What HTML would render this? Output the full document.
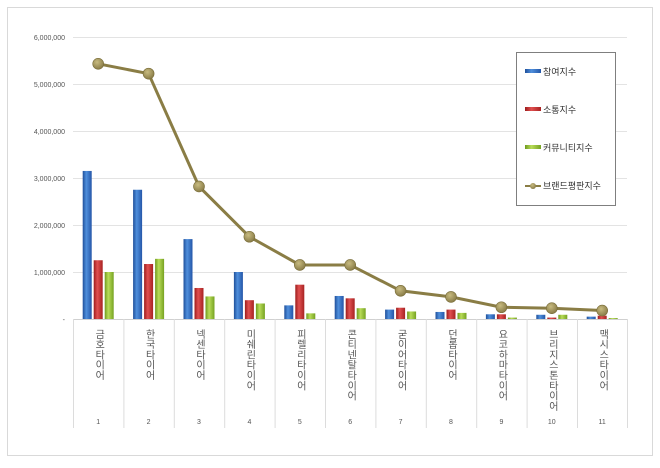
<!DOCTYPE html>
<html><head><meta charset="utf-8"><style>
body{margin:0;background:#fff;width:660px;height:463px;overflow:hidden}
svg text{font-family:"Liberation Sans","Noto Sans CJK KR",sans-serif}
.v{writing-mode:vertical-rl;font-size:10px;fill:#555;letter-spacing:0.3px}
.n{font-size:7px;fill:#555}
</style></head><body>
<svg width="660" height="463" xmlns="http://www.w3.org/2000/svg">
<defs>
<linearGradient id="gb" x1="0" x2="1"><stop offset="0" stop-color="#1f4f9a"/><stop offset="0.4" stop-color="#4f8fdc"/><stop offset="1" stop-color="#2456a8"/></linearGradient>
<linearGradient id="gr" x1="0" x2="1"><stop offset="0" stop-color="#9c1c1c"/><stop offset="0.4" stop-color="#e05050"/><stop offset="1" stop-color="#a82222"/></linearGradient>
<linearGradient id="gg" x1="0" x2="1"><stop offset="0" stop-color="#6f9a1e"/><stop offset="0.4" stop-color="#b8dc58"/><stop offset="1" stop-color="#76a222"/></linearGradient>
<radialGradient id="gm" cx="0.4" cy="0.35" r="0.7"><stop offset="0" stop-color="#c8bb80"/><stop offset="1" stop-color="#857844"/></radialGradient>
</defs>
<rect x="7.5" y="7.5" width="645" height="448" fill="#fff" stroke="#d9d9d9"/>
<g stroke="#e3e3e3">
<line x1="73" x2="627" y1="37.5" y2="37.5"/><line x1="73" x2="627" y1="84.5" y2="84.5"/>
<line x1="73" x2="627" y1="131.5" y2="131.5"/><line x1="73" x2="627" y1="178.5" y2="178.5"/>
<line x1="73" x2="627" y1="225.5" y2="225.5"/><line x1="73" x2="627" y1="272.5" y2="272.5"/>
<line x1="73" x2="627" y1="319.5" y2="319.5" stroke="#d0d0d0"/>
</g>
<g font-size="7" fill="#555" text-anchor="end">
<text x="65" y="40">6,000,000</text><text x="65" y="87">5,000,000</text><text x="65" y="134">4,000,000</text>
<text x="65" y="181">3,000,000</text><text x="65" y="228">2,000,000</text><text x="65" y="275">1,000,000</text><text x="65" y="322">-</text>
</g>
<g stroke="#dcdcdc">
<line x1="73.5" x2="73.5" y1="319" y2="428"/><line x1="123.9" x2="123.9" y1="319" y2="428"/><line x1="174.3" x2="174.3" y1="319" y2="428"/><line x1="224.7" x2="224.7" y1="319" y2="428"/><line x1="275.1" x2="275.1" y1="319" y2="428"/><line x1="325.5" x2="325.5" y1="319" y2="428"/><line x1="375.9" x2="375.9" y1="319" y2="428"/><line x1="426.3" x2="426.3" y1="319" y2="428"/><line x1="476.7" x2="476.7" y1="319" y2="428"/><line x1="527.1" x2="527.1" y1="319" y2="428"/><line x1="577.5" x2="577.5" y1="319" y2="428"/><line x1="627.5" x2="627.5" y1="319" y2="428"/>
</g>
<g>
<rect x="82.7" y="170.95" width="9" height="148.05" fill="url(#gb)"/><rect x="93.7" y="260.25" width="9" height="58.75" fill="url(#gr)"/><rect x="104.7" y="272" width="9" height="47" fill="url(#gg)"/>
<rect x="133.1" y="189.75" width="9" height="129.25" fill="url(#gb)"/><rect x="144.1" y="264.01" width="9" height="54.99" fill="url(#gr)"/><rect x="155.1" y="258.84" width="9" height="60.16" fill="url(#gg)"/>
<rect x="183.5" y="239.1" width="9" height="79.9" fill="url(#gb)"/><rect x="194.5" y="287.98" width="9" height="31.02" fill="url(#gr)"/><rect x="205.5" y="296.44" width="9" height="22.56" fill="url(#gg)"/>
<rect x="233.9" y="272" width="9" height="47" fill="url(#gb)"/><rect x="244.9" y="300.2" width="9" height="18.8" fill="url(#gr)"/><rect x="255.9" y="303.49" width="9" height="15.51" fill="url(#gg)"/>
<rect x="284.3" y="305.37" width="9" height="13.63" fill="url(#gb)"/><rect x="295.3" y="284.69" width="9" height="34.31" fill="url(#gr)"/><rect x="306.3" y="313.36" width="9" height="5.64" fill="url(#gg)"/>
<rect x="334.7" y="295.97" width="9" height="23.03" fill="url(#gb)"/><rect x="345.7" y="298.32" width="9" height="20.68" fill="url(#gr)"/><rect x="356.7" y="308.19" width="9" height="10.81" fill="url(#gg)"/>
<rect x="385.1" y="309.6" width="9" height="9.4" fill="url(#gb)"/><rect x="396.1" y="307.72" width="9" height="11.28" fill="url(#gr)"/><rect x="407.1" y="311.48" width="9" height="7.52" fill="url(#gg)"/>
<rect x="435.5" y="311.95" width="9" height="7.05" fill="url(#gb)"/><rect x="446.5" y="309.6" width="9" height="9.4" fill="url(#gr)"/><rect x="457.5" y="312.89" width="9" height="6.11" fill="url(#gg)"/>
<rect x="485.9" y="314.3" width="9" height="4.7" fill="url(#gb)"/><rect x="496.9" y="314.3" width="9" height="4.7" fill="url(#gr)"/><rect x="507.9" y="317.59" width="9" height="1.41" fill="url(#gg)"/>
<rect x="536.3" y="314.77" width="9" height="4.23" fill="url(#gb)"/><rect x="547.3" y="317.59" width="9" height="1.41" fill="url(#gr)"/><rect x="558.3" y="314.77" width="9" height="4.23" fill="url(#gg)"/>
<rect x="586.7" y="316.65" width="9" height="2.35" fill="url(#gb)"/><rect x="597.7" y="315.71" width="9" height="3.29" fill="url(#gr)"/><rect x="608.7" y="318.06" width="9" height="0.94" fill="url(#gg)"/>
</g>
<polyline points="98.2,63.79 148.6,73.66 199,186.46 249.4,236.75 299.8,264.95 350.2,264.95 400.6,290.8 451,296.91 501.4,307.25 551.8,308.19 602.2,310.54" fill="none" stroke="#8a7d45" stroke-width="3"/>
<g fill="url(#gm)" stroke="#7a6e3a" stroke-width="0.6">
<circle cx="98.2" cy="63.79" r="5.5"/><circle cx="148.6" cy="73.66" r="5.5"/><circle cx="199" cy="186.46" r="5.5"/><circle cx="249.4" cy="236.75" r="5.5"/><circle cx="299.8" cy="264.95" r="5.5"/><circle cx="350.2" cy="264.95" r="5.5"/><circle cx="400.6" cy="290.8" r="5.5"/><circle cx="451" cy="296.91" r="5.5"/><circle cx="501.4" cy="307.25" r="5.5"/><circle cx="551.8" cy="308.19" r="5.5"/><circle cx="602.2" cy="310.54" r="5.5"/>
</g>
<g>
<text class="v" x="98.2" y="329">금호타이어</text>
<text class="v" x="148.6" y="329">한국타이어</text>
<text class="v" x="199" y="329">넥센타이어</text>
<text class="v" x="249.4" y="329">미쉐린타이어</text>
<text class="v" x="299.8" y="329">피렐리타이어</text>
<text class="v" x="350.2" y="329">콘티넨탈타이어</text>
<text class="v" x="400.6" y="329">굳이어타이어</text>
<text class="v" x="451" y="329">던롭타이어</text>
<text class="v" x="501.4" y="329">요코하마타이어</text>
<text class="v" x="551.8" y="329">브리지스톤타이어</text>
<text class="v" x="602.2" y="329">맥시스타이어</text>
</g>
<g text-anchor="middle">
<text class="n" x="98.2" y="424">1</text><text class="n" x="148.6" y="424">2</text><text class="n" x="199" y="424">3</text><text class="n" x="249.4" y="424">4</text><text class="n" x="299.8" y="424">5</text><text class="n" x="350.2" y="424">6</text><text class="n" x="400.6" y="424">7</text><text class="n" x="451" y="424">8</text><text class="n" x="501.4" y="424">9</text><text class="n" x="551.8" y="424">10</text><text class="n" x="602.2" y="424">11</text>
</g>
<rect x="516.5" y="52.5" width="99" height="153" fill="#fff" stroke="#7f7f7f"/>
<rect x="525" y="69" width="16" height="4" fill="url(#gb)"/><text x="543" y="75" font-size="9" fill="#333">참여지수</text>
<rect x="525" y="107" width="16" height="4" fill="url(#gr)"/><text x="543" y="113" font-size="9" fill="#333">소통지수</text>
<rect x="525" y="145" width="16" height="4" fill="url(#gg)"/><text x="543" y="151" font-size="9" fill="#333">커뮤니티지수</text>
<line x1="525" x2="541" y1="186" y2="186" stroke="#8a7d45" stroke-width="2"/><circle cx="533" cy="186" r="3" fill="url(#gm)"/><text x="543" y="189" font-size="9" fill="#333">브랜드평판지수</text>
</svg>
</body></html>
